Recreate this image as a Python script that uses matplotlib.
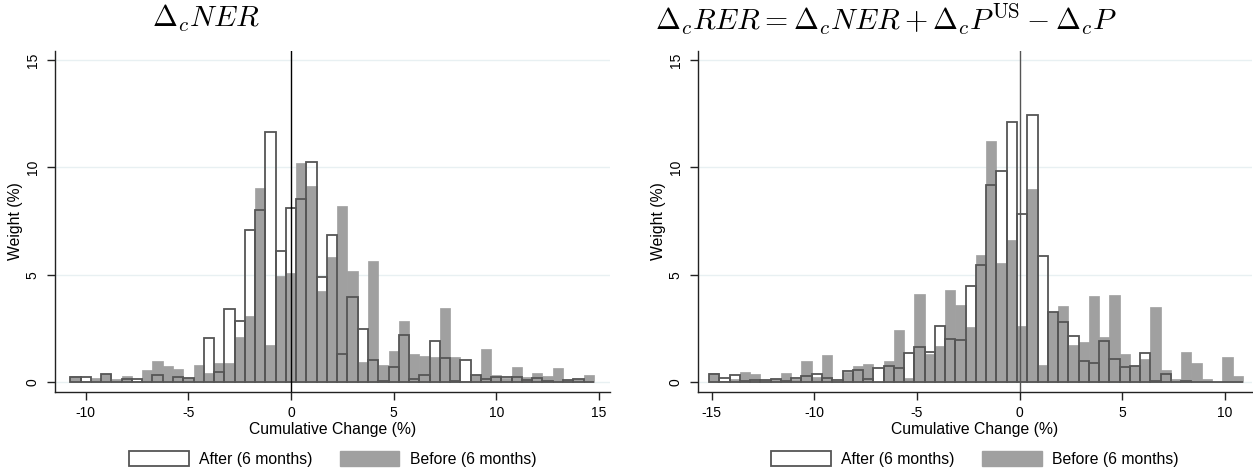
import matplotlib
matplotlib.use("Agg")
import matplotlib.pyplot as plt
from matplotlib.patches import Patch
import numpy as np

plt.rcParams['font.family'] = ['Liberation Sans', 'DejaVu Sans']
plt.rcParams['mathtext.fontset'] = 'cm'

# ---------------- data ----------------
bin_width = 0.5
ner_centers = [-10.5, -10, -9.5, -9, -8.5, -8, -7.5, -7, -6.5, -6, -5.5, -5, -4.5, -4,
               -3.5, -3, -2.5, -2, -1.5, -1, -0.5, 0, 0.5, 1, 1.5, 2, 2.5, 3, 3.5, 4,
               4.5, 5, 5.5, 6, 6.5, 7, 7.5, 8, 8.5, 9, 9.5, 10, 10.5, 11, 11.5, 12,
               12.5, 13, 13.5, 14, 14.5]
ner_before = [0.28, 0.05, 0.20, 0.35, 0.15, 0.30, 0.03, 0.55, 0.98, 0.73, 0.60, 0.19, 0.80, 0.42,
              0.87, 0.90, 2.10, 3.06, 9.02, 1.72, 4.94, 5.09, 10.19, 9.11, 4.25, 5.84, 8.18, 5.16, 0.93, 5.62,
              0.79, 1.46, 2.83, 1.30, 1.21, 1.18, 3.45, 1.16, 0.03, 0.31, 1.54, 0.33, 0.17, 0.71, 0.25, 0.40,
              0.28, 0.64, 0.08, 0.12, 0.31]
ner_after = [0.25, 0.22, 0.00, 0.37, 0.00, 0.15, 0.15, 0.00, 0.33, 0.00, 0.22, 0.19, 0.00, 2.03,
             0.47, 3.42, 2.84, 7.07, 8.00, 11.65, 6.12, 8.12, 8.52, 10.26, 4.89, 6.86, 1.30, 3.94, 2.45, 1.01,
             0.06, 0.70, 2.17, 0.16, 0.34, 1.89, 1.12, 0.06, 1.01, 0.31, 0.12, 0.22, 0.25, 0.22, 0.09, 0.17,
             0.06, 0.00, 0.08, 0.12, 0.00]

rer_centers = [-14.88, -14.38, -13.88, -13.38, -12.88, -12.38, -11.88, -11.38, -10.88, -10.38,
               -9.88, -9.38, -8.88, -8.38, -7.88, -7.38, -6.88, -6.38, -5.88, -5.38,
               -4.88, -4.38, -3.88, -3.38, -2.88, -2.38, -1.88, -1.38, -0.88, -0.38,
               0.12, 0.62, 1.12, 1.62, 2.12, 2.62, 3.12, 3.62, 4.12, 4.62,
               5.12, 5.62, 6.12, 6.62, 7.12, 7.62, 8.12, 8.62, 9.12, 9.62, 10.12, 10.62]
rer_before = [0.40, 0.05, 0.15, 0.47, 0.37, 0.08, 0.14, 0.43, 0.12, 0.98,
              0.25, 1.24, 0.03, 0.48, 0.76, 0.82, 0.02, 0.96, 2.42, 0.17,
              4.10, 1.30, 1.69, 4.30, 3.60, 2.55, 5.90, 11.24, 5.56, 6.60,
              2.61, 9.00, 0.78, 3.28, 3.54, 1.71, 1.86, 4.01, 2.08, 4.04,
              1.29, 0.75, 1.09, 3.51, 0.54, 0.16, 1.40, 0.90, 0.14, 0.00, 1.16, 0.30]
rer_after = [0.37, 0.20, 0.31, 0.05, 0.10, 0.08, 0.14, 0.05, 0.17, 0.26,
             0.36, 0.17, 0.10, 0.53, 0.57, 0.14, 0.64, 0.76, 0.64, 1.37,
             1.63, 1.41, 2.62, 2.02, 1.96, 4.49, 5.45, 9.19, 9.83, 12.11,
             7.83, 12.45, 5.85, 3.28, 2.78, 2.16, 0.99, 0.89, 1.89, 1.07,
             0.70, 0.75, 1.34, 0.05, 0.37, 0.00, 0.03, 0.00, 0.00, 0.00, 0.00, 0.00]

ner_xticks = [-10, -5, 0, 5, 10, 15]
rer_xticks = [-15, -10, -5, 0, 5, 10]
yticks = [0, 5, 10, 15]

ner_title = r'$\Delta_c NER$'
rer_title = r'$\Delta_c RER = \Delta_c NER + \Delta_c P^{\mathrm{US}} - \Delta_c P$'

# ---------------- styling ----------------
W, H = 1253, 475
fig = plt.figure(figsize=(W / 100, H / 100), dpi=100)

gray_fill = '#a0a0a0'
outline = '#555555'
grid_col = '#e8f0f2'


def make_panel(rect, centers, before, after, xticks, xlim, zero_col):
    ax = fig.add_axes(rect)
    ax.set_xlim(*xlim)
    ax.set_ylim(-0.48, 15.43)
    for yv in yticks:
        ax.axhline(yv, color=grid_col, lw=1.0, zorder=0)
    ax.bar(centers, before, width=bin_width, color=gray_fill, edgecolor=gray_fill,
           linewidth=0.5, zorder=2)
    ax.bar(centers, after, width=bin_width, facecolor='none', edgecolor=outline,
           linewidth=1.3, zorder=3)
    ax.axvline(0, color=zero_col, lw=1.0, zorder=4)
    for s in ['top', 'right']:
        ax.spines[s].set_visible(False)
    for s in ['left', 'bottom']:
        ax.spines[s].set_color('#222222')
        ax.spines[s].set_linewidth(1.0)
    ax.set_xticks(xticks)
    ax.set_xticklabels([str(t) for t in xticks])
    ax.set_yticks(yticks)
    ax.set_yticklabels([str(t) for t in yticks], rotation=90, va='center')
    ax.tick_params(axis='both', direction='out', length=6, width=1, color='#222222',
                   labelsize=10, pad=4)
    ax.tick_params(axis='y', pad=5)
    ax.set_xlabel('Cumulative Change (%)', fontsize=11.3, labelpad=1)
    ax.set_ylabel('Weight (%)', fontsize=11.3, labelpad=2)
    handles = [Patch(facecolor='white', edgecolor=outline, linewidth=1.3, label='After (6 months)'),
               Patch(facecolor=gray_fill, edgecolor=gray_fill, label='Before (6 months)')]
    ax.legend(handles=handles, loc='center', bbox_to_anchor=(0.5, -0.195), ncol=2,
              frameon=False, fontsize=11.3, handlelength=3.8, handleheight=1.05,
              handletextpad=0.65, columnspacing=1.75)
    return ax


axL = make_panel([55 / W, 1 - 392.3 / H, 555 / W, 341.6 / H],
                 ner_centers, ner_before, ner_after, ner_xticks, (-11.5, 15.54), 'black')
axR = make_panel([698 / W, 1 - 392.3 / H, 554 / W, 341.6 / H],
                 rer_centers, rer_before, rer_after, rer_xticks, (-15.67, 11.32), '#555555')

fig.text(152 / W, 1 - 27 / H, ner_title, fontsize=21.5, ha='left', va='baseline')
fig.text(655 / W, 1 - 30 / H, rer_title, fontsize=21.5, ha='left', va='baseline')

fig.savefig('out.png', dpi=100)
